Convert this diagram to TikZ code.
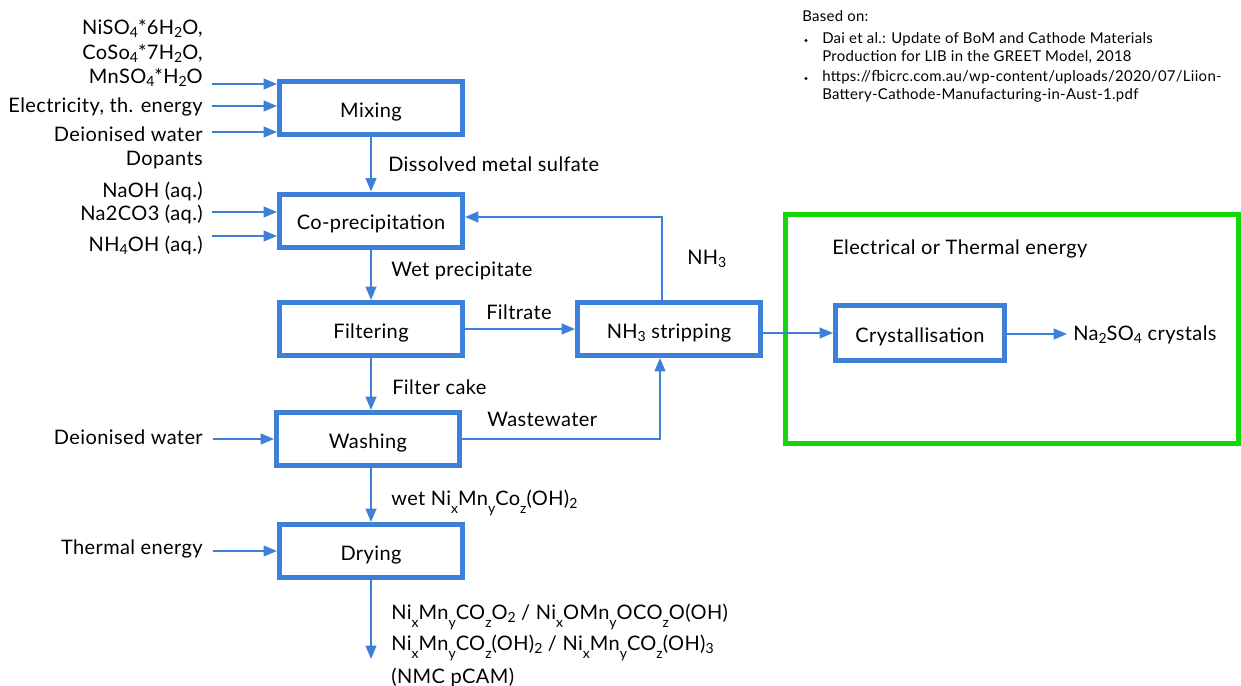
\documentclass[tikz,border=0pt]{standalone}
\usepackage{fontspec}
\setmainfont{Lato}[LetterSpace=2]
\usetikzlibrary{arrows.meta,calc}
\definecolor{flowblue}{HTML}{3D7FD9}
\definecolor{framegreen}{HTML}{14D70A}
% small subscripts: digits slightly lowered, indices x,y,z lowered further
\newcommand\sbd[1]{\raisebox{-0.3ex}{\fontsize{10.5}{10}\selectfont #1}}
\newcommand\sbv[1]{\raisebox{-0.8ex}{\fontsize{10.5}{10}\selectfont #1}}
\begin{document}
\begin{tikzpicture}[x=0.75pt,y=-0.75pt,
  font=\fontsize{15}{18}\selectfont,
  stage/.style={draw=flowblue, line width=3.75pt, minimum width=137.25pt,
    minimum height=39.75pt, inner sep=0pt, text height=14pt, text depth=0pt},
  flow/.style={draw=flowblue, line width=1.5pt,
    -{Triangle[length=10pt,width=8pt]}},
  lbl/.style={inner sep=0pt, anchor=base west},
  rlbl/.style={inner sep=0pt, anchor=base east},
  note/.style={inner sep=0pt, anchor=base west, font=\fontsize{11.2}{13.5}\selectfont},
  dot/.style={circle, fill=black, inner sep=0pt, minimum size=2.6pt}]
\useasboundingbox (0,0) rectangle (1241,685);

% crystallisation frame
\node[draw=framegreen, line width=3.75pt, minimum width=339.75pt,
  minimum height=171.75pt, inner sep=0pt] (frame) at (1012,329) {};

% process stages
\node[stage] (mix) at (371,108) {Mixing};
\node[stage] (cop) at (371,220.5) {Co-precipitation};
\node[stage] (filt) at (371,329) {Filtering};
\node[stage] (wash) at (368,439) {Washing};
\node[stage] (dry) at (371,551) {Drying};
\node[stage] (strip) at (669,329) {NH\sbd{3} stripping};
\node[stage, minimum width=126.75pt, minimum height=41.25pt] (cryst) at (920,333) {Crystallisation};

% input labels
\node[rlbl] (s1) at (203,34.8) {NiSO\sbd{4}*6H\sbd{2}O,};
\node[rlbl] (s2) at (203,59.2) {CoSo\sbd{4}*7H\sbd{2}O,};
\node[rlbl] (s3) at (203,83.8) {MnSO\sbd{4}*H\sbd{2}O};
\node[rlbl] (elec) at (203,112.5) {Electricity, th. energy};
\node[rlbl] (dw1) at (203,141.2) {Deionised water};
\node[rlbl] (dop) at (203,165.2) {Dopants};
\node[rlbl] (naoh) at (203,197.2) {NaOH (aq.)};
\node[rlbl] (naco) at (203,220.5) {Na2CO3 (aq.)};
\node[rlbl] (nh4) at (203,251.5) {NH\sbd{4}OH (aq.)};
\node[rlbl] (dw2) at (203,444.5) {Deionised water};
\node[rlbl] (therm) at (203,554.5) {Thermal energy};

% input arrow starts
\coordinate (i1) at (212,84);
\coordinate (i2) at (212,106);
\coordinate (i3) at (212,132);
\coordinate (i4) at (212,212);
\coordinate (i5) at (212,236);
\coordinate (i6) at (213,439);
\coordinate (i7) at (213,551);
\foreach \c/\t in {i1/mix,i2/mix,i3/mix,i4/cop,i5/cop,i6/wash,i7/dry}
  \draw[flow] (\c) -- (\c -| \t.west);

% main chain
\draw[flow] (mix.south) -- (cop.north);
\draw[flow] (cop.south) -- (filt.north);
\draw[flow] (filt.south) -- (filt.south |- wash.north);
\draw[flow] (wash.south -| dry.south) -- (dry.north);
\coordinate (out) at (371,659);
\draw[flow] (dry.south) -- (out);

\node[lbl] (l1) at (388,171.5) {Dissolved metal sulfate};
\node[lbl] (l2) at (391,276.5) {Wet precipitate};
\node[lbl] (l3) at (392,394.5) {Filter cake};
\node[lbl] (l4) at (391,505) {wet Ni\sbv{x}Mn\sbv{y}Co\sbv{z}(OH)\sbd{2}};
\node[lbl] (o1) at (391,619.5) {Ni\sbv{x}Mn\sbv{y}CO\sbv{z}O\sbd{2} / Ni\sbv{x}OMn\sbv{y}OCO\sbv{z}O(OH)};
\node[lbl] (o2) at (391,650.5) {Ni\sbv{x}Mn\sbv{y}CO\sbv{z}(OH)\sbd{2} / Ni\sbv{x}Mn\sbv{y}CO\sbv{z}(OH)\sbd{3}};
\node[lbl] (o3) at (391,683.5) {(NMC pCAM)};

% side streams
\draw[flow] (filt.east) -- (strip.west);
\node[lbl] (filtrate) at (486,319.5) {Filtrate};
\coordinate (ww) at (660,439);
\draw[flow] (wash.east) -- (ww) -- (ww |- strip.south);
\node[lbl] (wwl) at (487,426.5) {Wastewater};
\coordinate (ret) at (662,217);
\draw[flow] (ret |- strip.north) -- (ret) -- (ret -| cop.east);
\node[lbl] (nh3) at (687,264.5) {NH\sbd{3}};

% crystallisation
\draw[flow] (strip.east |- cryst.west) -- (cryst.west);
\node[lbl] (energy) at (832,254.5) {Electrical or Thermal energy};
\coordinate (prod) at (1067,334);
\draw[flow] (cryst.east |- prod) -- (prod);
\node[lbl] (crystals) at (1073,340.5) {Na\sbd{2}SO\sbd{4} crystals};

% references
\node[note] (n0) at (802,22) {Based on:};
\node[dot] (b1) at (806,40.5) {};
\node[note] (n1) at (822,43.3) {Dai et al.: Update of BoM and Cathode Materials};
\node[note] (n2) at (822,61.7) {Production for LIB in the GREET Model, 2018};
\node[dot] (b2) at (806,78.5) {};
\node[note] (n3) at (822,81.7) {https://fbicrc.com.au/wp-content/uploads/2020/07/Liion-};
\node[note] (n4) at (822,99.3) {Battery-Cathode-Manufacturing-in-Aust-1.pdf};
\end{tikzpicture}
\end{document}
